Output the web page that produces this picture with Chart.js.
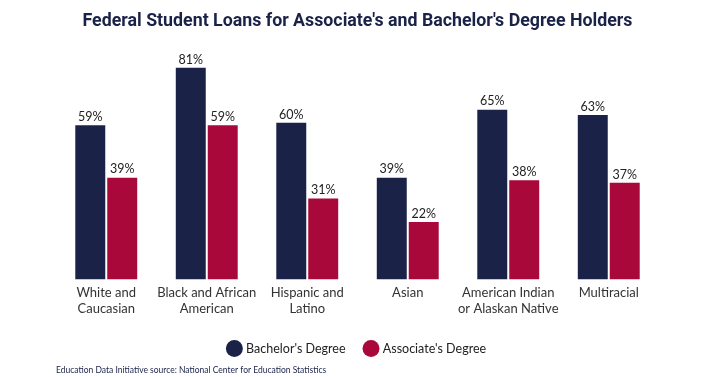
<!DOCTYPE html>
<html>
<head>
<meta charset="utf-8">
<script src="https://cdn.jsdelivr.net/npm/chart.js@4"></script>
<style>
  html, body { margin: 0; padding: 0; background: #fff; }
  #wrap { position: relative; width: 718px; height: 377px; }
</style>
</head>
<body>
<div id="wrap"><canvas id="loans"></canvas></div>
<script>
// 데이터
const groups = [
  ["White and", "Caucasian"],
  ["Black and African", "American"],
  ["Hispanic and", "Latino"],
  ["Asian"],
  ["American Indian", "or Alaskan Native"],
  ["Multiracial"],
];
const bachelors = [59, 81, 60, 39, 65, 63];
const associates = [39, 59, 31, 22, 38, 37];
const seriesNames = ["Bachelor's Degree", "Associate's Degree"];

const NAVY = "#1a2248";
const RED = "#a8083a";

// 막대 위 퍼센트 표시
const valueLabels = {
  id: "valueLabels",
  afterDatasetsDraw(chart) {
    const ctx = chart.ctx;
    ctx.save();
    ctx.font = "12.5px Lato";
    ctx.fillStyle = "#222";
    ctx.textAlign = "center";
    ctx.textBaseline = "bottom";
    chart.data.datasets.forEach((ds, i) => {
      chart.getDatasetMeta(i).data.forEach((bar, j) => {
        ctx.fillText(ds.data[j] + "%", bar.x, bar.y - 2);
      });
    });
    ctx.restore();
  },
};

new Chart(document.getElementById("loans"), {
  type: "bar",
  data: {
    labels: groups,
    datasets: [
      { label: seriesNames[0], data: bachelors, backgroundColor: NAVY },
      { label: seriesNames[1], data: associates, backgroundColor: RED },
    ],
  },
  options: {
    responsive: true,
    maintainAspectRatio: false,
    animation: false,
    categoryPercentage: 0.636,
    barPercentage: 0.9375,
    layout: { padding: { left: 56, right: 59, top: 0, bottom: 0 } },
    scales: {
      x: {
        grid: { display: false, drawTicks: false },
        border: { display: false },
        ticks: {
          color: "#333",
          padding: 6,
          maxRotation: 0,
          autoSkip: false,
          font: { family: "Lato", size: 13, lineHeight: 1.18 },
        },
      },
      y: {
        display: false,
        min: 0,
        max: 85,
      },
    },
    plugins: {
      title: {
        display: true,
        text: "Federal Student Loans for Associate's and Bachelor's Degree Holders",
        color: NAVY,
        font: { family: "Roboto", size: 17.8, weight: "bold" },
        padding: { top: 11, bottom: 25 },
      },
      subtitle: {
        display: true,
        position: "bottom",
        align: "start",
        text: "Education Data Initiative source: National Center for Education Statistics",
        color: "#1a2248",
        font: { family: "Lato", size: 8.5 },
        padding: { top: 0, bottom: 2 },
      },
      legend: {
        position: "bottom",
        labels: {
          usePointStyle: true,
          pointStyle: "circle",
          boxWidth: 11,
          boxHeight: 12,
          padding: 20,
          color: "#222",
          font: { family: "Lato", size: 12.5 },
        },
      },
      tooltip: { enabled: false },
    },
  },
  plugins: [valueLabels],
});
</script>
</body>
</html>
